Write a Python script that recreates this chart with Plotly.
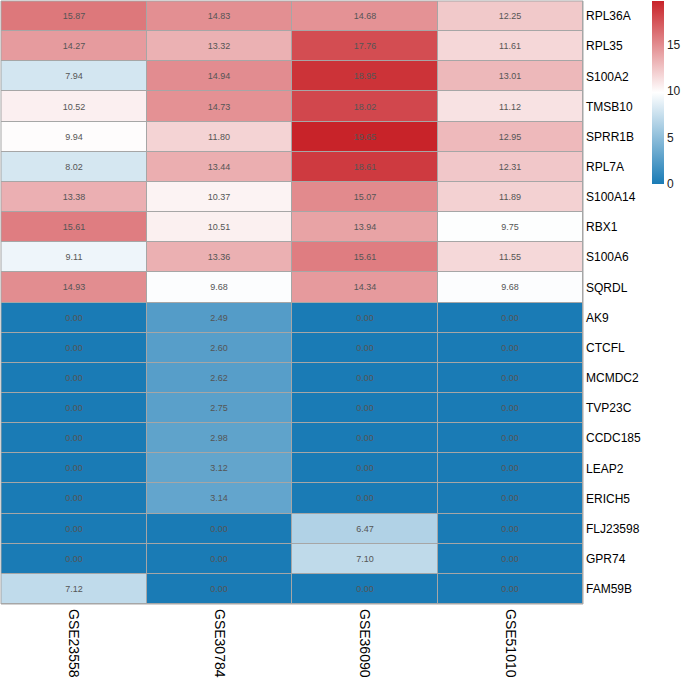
import plotly.graph_objects as go

genes = ["RPL36A", "RPL35", "S100A2", "TMSB10", "SPRR1B", "RPL7A", "S100A14", "RBX1",
         "S100A6", "SQRDL", "AK9", "CTCFL", "MCMDC2", "TVP23C", "CCDC185", "LEAP2",
         "ERICH5", "FLJ23598", "GPR74", "FAM59B"]
datasets = ["GSE23558", "GSE30784", "GSE36090", "GSE51010"]

gse23558 = [15.87, 14.27, 7.94, 10.52, 9.94, 8.02, 13.38, 15.61, 9.11, 14.93,
            0, 0, 0, 0, 0, 0, 0, 0, 0, 7.12]
gse30784 = [14.83, 13.32, 14.94, 14.73, 11.80, 13.44, 10.37, 10.51, 13.36, 9.68,
            2.49, 2.60, 2.62, 2.75, 2.98, 3.12, 3.14, 0, 0, 0]
gse36090 = [14.68, 17.76, 18.95, 18.02, 19.65, 18.61, 15.07, 13.94, 15.61, 14.34,
            0, 0, 0, 0, 0, 0, 0, 6.47, 7.10, 0]
gse51010 = [12.25, 11.61, 13.01, 11.12, 12.95, 12.31, 11.89, 9.75, 11.55, 9.68,
            0, 0, 0, 0, 0, 0, 0, 0, 0, 0]

cols = [gse23558, gse30784, gse36090, gse51010]
z = [[c[i] for c in cols] for i in range(len(genes))]
zmax = max(max(c) for c in cols)

W, H = 682, 678
plot_right, plot_bottom = 583, 604

fig = go.Figure(go.Heatmap(
    z=z, x=datasets, y=genes,
    zmin=0, zmax=zmax,
    colorscale=[[0, "rgb(26,123,181)"], [0.5, "rgb(255,255,255)"], [1, "rgb(200,35,41)"]],
    xgap=1, ygap=1,
    texttemplate="%{z:.2f}",
    textfont=dict(size=9, color="#555555", family="Liberation Sans, Arial, sans-serif"),
    colorbar=dict(
        x=652 / plot_right, xanchor="left", xref="paper",
        y=1, yanchor="top", ypad=0, xpad=0,
        lenmode="pixels", len=183,
        thickness=12, outlinewidth=0,
        tickvals=[0, 5, 10, 15], ticks="",
        tickfont=dict(size=12, color="#222222"),
    ),
    hoverongaps=False,
))

fig.update_layout(
    width=W, height=H,
    margin=dict(l=1, t=1, r=W - plot_right, b=H - plot_bottom, autoexpand=False),
    paper_bgcolor="white",
    plot_bgcolor="#A6A6A6",
    font=dict(family="Liberation Sans, Arial, sans-serif", color="black"),
    xaxis=dict(side="bottom", tickangle=90, ticks="", showgrid=False, zeroline=False,
               tickfont=dict(size=14), automargin=False, ticklabelstandoff=4),
    yaxis=dict(side="right", autorange="reversed", ticks="", showgrid=False, zeroline=False,
               tickfont=dict(size=12), automargin=False, ticklabelstandoff=2),
    shapes=[dict(type="rect", xref="paper", yref="paper", x0=0, x1=1, y0=0, y1=1,
                 line=dict(color="#A6A6A6", width=1))],
)

fig.write_html("out.html")
